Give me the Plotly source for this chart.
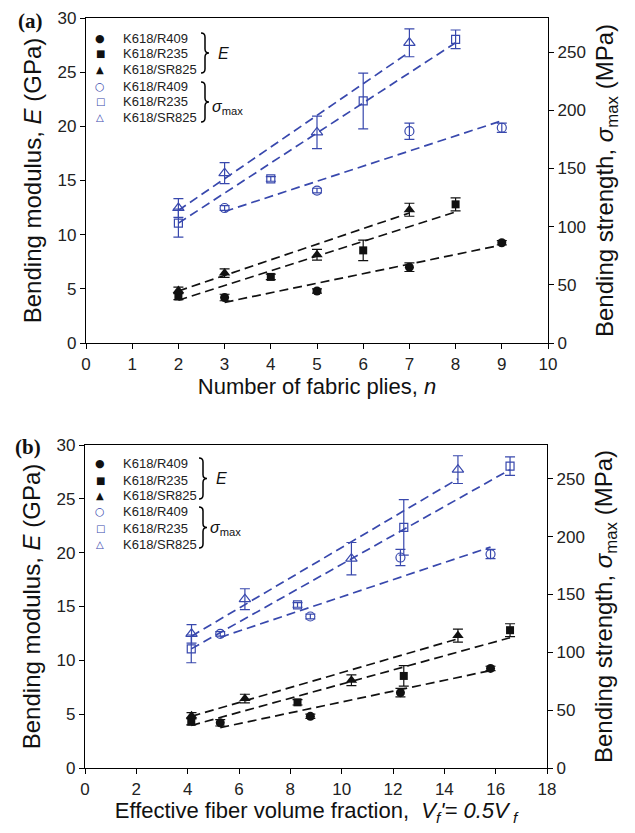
import plotly.graph_objects as go

W, H = 635, 833
BLUE = '#3848ad'
BLACK = '#111111'
FONT = 'Liberation Sans, Arial, Helvetica, sans-serif'

# ---------------- data ----------------
series_names = ['K618/R409', 'K618/R235', 'K618/SR825']

plies_R409 = [3, 5, 7, 9]
plies_R235 = [2, 4, 6, 8]
plies_SR825 = [2, 3, 5, 7]

vf_R409 = [5.27, 8.78, 12.29, 15.80]
vf_R235 = [4.14, 8.28, 12.42, 16.56]
vf_SR825 = [4.15, 6.23, 10.38, 14.53]

E_R409 = [4.2, 4.8, 7.0, 9.25]
E_R409_err = [0.3, 0.2, 0.4, 0.2]
E_R235 = [4.3, 6.1, 8.55, 12.8]
E_R235_err = [0.3, 0.25, 0.95, 0.6]
E_SR825 = [4.85, 6.45, 8.15, 12.3]
E_SR825_err = [0.3, 0.4, 0.5, 0.6]

S_R409 = [116, 131, 182, 185]
S_R409_err = [2, 2, 7, 4]
S_R235 = [103, 141, 208, 261]
S_R235_err = [12, 2, 24, 8]
S_SR825 = [116, 146, 181, 258]
S_SR825_err = [8, 9, 14, 12]

# dashed trend lines: values at first and last point of each series
fitE_R409 = [3.75, 9.05]
fitE_R235 = [3.95, 12.1]
fitE_SR825 = [4.8, 12.0]
fitS_R409 = [113, 191]
fitS_R235 = [103, 258]
fitS_SR825 = [114, 250]

xticks_a = list(range(0, 11, 1))
xticks_b = list(range(0, 19, 2))
yticks_E = list(range(0, 31, 5))
yticks_S = list(range(0, 251, 50))

# ---------------- figure ----------------
fig = go.Figure()


def px(x):
    return x / W


def py(y):
    return 1 - y / H


E_sets = [(E_R409, E_R409_err, fitE_R409, 'circle', 9),
          (E_R235, E_R235_err, fitE_R235, 'square', 8),
          (E_SR825, E_SR825_err, fitE_SR825, 'triangle-up', 10)]
S_sets = [(S_R409, S_R409_err, fitS_R409, 'circle-open', 9),
          (S_R235, S_R235_err, fitS_R235, 'square-open', 8),
          (S_SR825, S_SR825_err, fitS_SR825, 'triangle-up-open', 10)]

panels = [
    ([plies_R409, plies_R235, plies_SR825], 'x', 'y', 'y2'),
    ([vf_R409, vf_R235, vf_SR825], 'x2', 'y3', 'y4'),
]

for xs_list, xa, ya, ya2 in panels:
    for xs, (ys, err, fit, sym, sz) in zip(xs_list, E_sets):
        fig.add_trace(go.Scatter(x=[xs[0], xs[-1]], y=fit, mode='lines', xaxis=xa, yaxis=ya,
                                 line=dict(color=BLACK, width=1.7, dash='9px,5px'),
                                 showlegend=False, hoverinfo='skip'))
    for xs, (ys, err, fit, sym, sz) in zip(xs_list, S_sets):
        fig.add_trace(go.Scatter(x=[xs[0], xs[-1]], y=fit, mode='lines', xaxis=xa, yaxis=ya2,
                                 line=dict(color=BLUE, width=1.7, dash='9px,5px'),
                                 showlegend=False, hoverinfo='skip'))
    for name, xs, (ys, err, fit, sym, sz) in zip(series_names, xs_list, E_sets):
        fig.add_trace(go.Scatter(x=xs, y=ys, mode='markers', xaxis=xa, yaxis=ya, name=name,
                                 marker=dict(symbol=sym, size=sz, color=BLACK),
                                 error_y=dict(type='data', array=err, visible=True,
                                              color=BLACK, thickness=1.2, width=5),
                                 showlegend=False))
    for name, xs, (ys, err, fit, sym, sz) in zip(series_names, xs_list, S_sets):
        fig.add_trace(go.Scatter(x=xs, y=ys, mode='markers', xaxis=xa, yaxis=ya2, name=name,
                                 marker=dict(symbol=sym, size=sz, color=BLUE,
                                             line=dict(color=BLUE, width=1.2)),
                                 error_y=dict(type='data', array=err, visible=True,
                                              color=BLUE, thickness=1.2, width=5),
                                 showlegend=False))

axis_common = dict(showline=True, linecolor='black', linewidth=1.2, ticks='outside',
                   ticklen=5, tickwidth=1.2, tickcolor='black', showgrid=False,
                   zeroline=False, tickfont=dict(family=FONT, size=17, color='#222'))

dx_a = [px(86), px(548)]
dx_b = [px(85), px(547)]
dy_a = [py(343), py(18)]
dy_b = [py(768), py(445)]

S_top = 279.3

fig.update_layout(
    width=W, height=H, plot_bgcolor='white', paper_bgcolor='white',
    margin=dict(l=0, r=0, t=0, b=0, autoexpand=False), showlegend=False,
    xaxis=dict(domain=dx_a, anchor='y', range=[0, 10], tickvals=xticks_a, mirror=True,
               title=dict(text='Number of fabric plies, <i>n</i>', standoff=6,
                          font=dict(family=FONT, size=22, color='#111')), **axis_common),
    yaxis=dict(domain=dy_a, anchor='x', range=[0, 30], tickvals=yticks_E,
               title=dict(text='Bending modulus, <i>E</i> (GPa)', standoff=9,
                          font=dict(family=FONT, size=24, color='#111')), **axis_common),
    yaxis2=dict(overlaying='y', anchor='x', side='right', range=[0, S_top], tickvals=yticks_S,
                title=dict(text='Bending strength, <i>σ</i><sub>max</sub> (MPa)', standoff=11,
                           font=dict(family=FONT, size=24, color='#111')), **axis_common),
    xaxis2=dict(domain=dx_b, anchor='y3', range=[0, 18], tickvals=xticks_b, mirror=True,
                title=dict(text="Effective fiber volume fraction,  <i>V<sub>f</sub>'= 0.5V<sub> f</sub></i>",
                           standoff=0, font=dict(family=FONT, size=22, color='#111')), **axis_common),
    yaxis3=dict(domain=dy_b, anchor='x2', range=[0, 30], tickvals=yticks_E,
                title=dict(text='Bending modulus, <i>E</i> (GPa)', standoff=9,
                           font=dict(family=FONT, size=24, color='#111')), **axis_common),
    yaxis4=dict(overlaying='y3', anchor='x2', side='right', range=[0, S_top], tickvals=yticks_S,
                title=dict(text='Bending strength, <i>σ</i><sub>max</sub> (MPa)', standoff=11,
                           font=dict(family=FONT, size=24, color='#111')), **axis_common),
)

annotations = []
shapes = []


def brace(x0, ytop, ybot, w=8):
    xm = x0 + w / 2.0
    x1 = x0 + w
    ym = (ytop + ybot) / 2.0
    r = 4
    pts = [
        ('M', [(x0, ytop)]),
        ('Q', [(xm, ytop), (xm, ytop + r)]),
        ('L', [(xm, ym - r)]),
        ('Q', [(xm, ym), (x1, ym)]),
        ('Q', [(xm, ym), (xm, ym + r)]),
        ('L', [(xm, ybot - r)]),
        ('Q', [(xm, ybot), (x0, ybot)]),
    ]
    s = ''
    for cmd, ps in pts:
        s += cmd + ' ' + ' '.join('%.5f,%.5f' % (px(a), py(b)) for a, b in ps) + ' '
    return dict(type='path', path=s.strip(), xref='paper', yref='paper',
                line=dict(color='black', width=1.5))


glyphs = [('●', BLACK, 11), ('■', BLACK, 10), ('▲', BLACK, 10),
          ('○', BLUE, 11), ('□', BLUE, 10), ('△', BLUE, 10)]
labels = series_names + series_names

legend_layouts = [
    dict(lab=(30, 21, '(a)'), rows=[38, 53.5, 69, 86, 101.5, 117], mx=100, tx=121,
         bE=(201, 33, 73), bS=(201, 82, 122), Elab=(216, 53), Slab=(210, 108)),
    dict(lab=(28, 447, '(b)'), rows=[463, 480, 496, 512, 528, 544], mx=100, tx=121,
         bE=(199, 458, 499), bS=(199, 507, 548), Elab=(214, 478), Slab=(208, 528)),
]

for L in legend_layouts:
    lx, ly, lt = L['lab']
    annotations.append(dict(x=px(lx), y=py(ly), xref='paper', yref='paper', showarrow=False,
                            text='<b>%s</b>' % lt, xanchor='center', yanchor='middle',
                            font=dict(family='Liberation Serif, Times New Roman, serif',
                                      size=21, color='#111')))
    for (g, c, gs), lab, ry in zip(glyphs, labels, L['rows']):
        annotations.append(dict(x=px(L['mx']), y=py(ry), xref='paper', yref='paper',
                                showarrow=False, text=g, xanchor='center', yanchor='middle',
                                font=dict(family='DejaVu Sans', size=gs, color=c)))
        annotations.append(dict(x=px(L['tx']), y=py(ry), xref='paper', yref='paper',
                                showarrow=False, text=lab, xanchor='left', yanchor='middle',
                                font=dict(family=FONT, size=13, color='#222')))
    shapes.append(brace(*L['bE']))
    shapes.append(brace(*L['bS']))
    annotations.append(dict(x=px(L['Elab'][0]), y=py(L['Elab'][1]), xref='paper', yref='paper',
                            showarrow=False, text='<i>E</i>', xanchor='left', yanchor='middle',
                            font=dict(family=FONT, size=16, color='#111')))
    annotations.append(dict(x=px(L['Slab'][0]), y=py(L['Slab'][1]), xref='paper', yref='paper',
                            showarrow=False, text='<i>σ</i><sub>max</sub>', xanchor='left',
                            yanchor='middle', font=dict(family=FONT, size=16, color='#111')))

fig.update_layout(annotations=annotations, shapes=shapes)

fig.write_html('out.html', config={'displayModeBar': False},
               post_script="document.body.style.margin='0';document.body.style.overflow='hidden';")
